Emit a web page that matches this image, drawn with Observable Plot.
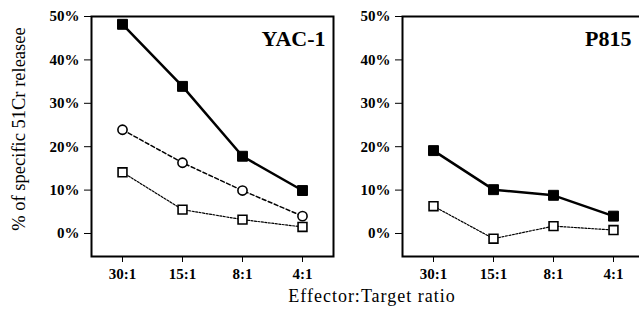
<!DOCTYPE html>
<html>
<head>
<meta charset="utf-8">
<script src="https://cdn.jsdelivr.net/npm/d3@7"></script>
<script src="https://cdn.jsdelivr.net/npm/@observablehq/plot@0.6"></script>
<style>
  html, body { margin: 0; padding: 0; background: #fff; }
  #wrap { position: relative; width: 639px; height: 324px; overflow: hidden; background: #fff; font-family: "Liberation Serif", "Times New Roman", serif; color: #000; }
  #p1, #p2 { position: absolute; top: 0; }
  #p1 { left: 0; width: 340px; }
  #p2 { left: 340px; width: 310px; }
  #wrap svg { max-width: none !important; font-family: "Liberation Serif", "Times New Roman", serif !important; font-size: 14px; overflow: visible; }
  #ytitle { position: absolute; left: 19px; top: 129px; transform: translate(-50%, -50%) rotate(-90deg); white-space: nowrap; font-size: 18.5px; }
  #xtitle { position: absolute; left: 372px; top: 305px; transform: translate(-50%, -100%); white-space: nowrap; font-size: 18px; letter-spacing: 1px; line-height: 1; }
</style>
</head>
<body>
<div id="wrap">
  <div id="p1"></div>
  <div id="p2"></div>
  <div id="ytitle">% of specific 51Cr releasee</div>
  <div id="xtitle">Effector:Target ratio</div>
</div>
<script>
const ratios = ["30:1", "15:1", "8:1", "4:1"];
const yTicks = [0, 10, 20, 30, 40, 50];
const panelNames = ["YAC-1", "P815"];
const xTitle = "Effector:Target ratio";
const yTitle = "% of specific 51Cr releasee";

// YAC-1 panel
const yacFilled = [48.2, 33.9, 17.8, 9.9];
const yacCircle = [23.9, 16.3, 9.9, 4.0];
const yacOpen = [14.1, 5.5, 3.2, 1.5];
// P815 panel
const p815Filled = [19.1, 10.1, 8.8, 4.0];
const p815Open = [6.3, -1.2, 1.7, 0.8];

const rows = (vals) => ratios.map((r, i) => ({ ratio: r, value: vals[i] }));

function panel({ name, width, marginLeft, marginRight, titleDx, series }) {
  const marks = [];
  for (const s of series) {
    const data = rows(s.values);
    marks.push(Plot.line(data, {
      x: "ratio", y: "value", stroke: "#000",
      strokeWidth: s.lineWidth, strokeDasharray: s.dash
    }));
    marks.push(Plot.dot(data, {
      x: "ratio", y: "value", symbol: s.symbol, r: s.r,
      fill: s.fill, stroke: "#000", strokeWidth: s.fill === "#000" ? 1 : 1.6
    }));
  }
  return Plot.plot({
    width, height: 324,
    marginLeft, marginRight, marginTop: 16, marginBottom: 68,
    style: "font-family: 'Liberation Serif', 'Times New Roman', serif; font-size: 14px; color: #000; background: transparent; overflow: visible; max-width: none;",
    x: { type: "point", domain: ratios, padding: 0.5 },
    y: { domain: [-5.3, 50] },
    marks: [
      Plot.frame({ stroke: "#000", strokeWidth: 2 }),
      Plot.axisY({ ticks: yTicks, tickFormat: d => d + "%", tickSize: 7, tickPadding: 5, tickStrokeWidth: 1.5, label: null, fontWeight: "bold", fontSize: 15 }),
      Plot.axisX({ tickSize: 6, tickPadding: 6, tickStrokeWidth: 1.5, label: null, fontWeight: "bold", fontSize: 15 }),
      ...marks,
      Plot.text([name], { frameAnchor: "top-right", text: d => d, textAnchor: "end", lineAnchor: "bottom", dx: titleDx, dy: 29, fontSize: 22, fontWeight: "bold" })
    ]
  });
}

const filledStyle = { symbol: "square", r: 5.6, fill: "#000", lineWidth: 2.5, dash: null };
const circleStyle = { symbol: "circle", r: 4.6, fill: "#fff", lineWidth: 1.5, dash: "4,2.5" };
const openStyle = { symbol: "square", r: 5.0, fill: "#fff", lineWidth: 1.2, dash: "2,1.5" };

document.getElementById("p1").appendChild(panel({
  name: panelNames[0], width: 340, marginLeft: 91, marginRight: 7, titleDx: -8,
  series: [
    { ...openStyle, values: yacOpen },
    { ...circleStyle, values: yacCircle },
    { ...filledStyle, values: yacFilled }
  ]
}));
document.getElementById("p2").appendChild(panel({
  name: panelNames[1], width: 310, marginLeft: 62, marginRight: 7, titleDx: -12,
  series: [
    { ...openStyle, values: p815Open },
    { ...filledStyle, values: p815Filled }
  ]
}));
</script>
</body>
</html>
